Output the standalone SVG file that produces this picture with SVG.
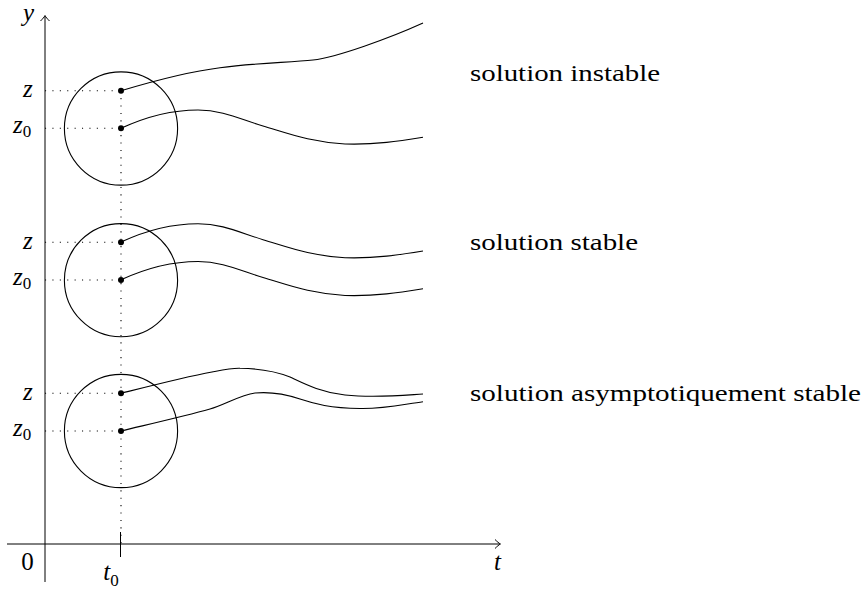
<svg xmlns="http://www.w3.org/2000/svg" width="867" height="590" viewBox="0 0 867 590" font-family="Liberation Serif, Times New Roman, serif">
<defs>
<style>
.ax{stroke:#000;stroke-width:1;fill:none}
.dot{stroke:#000;stroke-width:1.1;stroke-dasharray:1.1 6.3;fill:none}
.crc{stroke:#000;stroke-width:1.1;fill:none}
.cv{stroke:#000;stroke-width:1.1;fill:none}
.pt{fill:#000}
.lbl{font-size:24px}
.m{font-size:25px;font-style:italic}
.n{font-size:25px}
.sub{font-size:17px;font-style:normal}
</style>
<marker id="to" markerUnits="userSpaceOnUse" viewBox="-7 -6 9 12" markerWidth="9" markerHeight="12" refX="0" refY="0" orient="auto">
<path d="M-5,-4.5 C-3,-2.5 -1,-0.7 0.5,0 C-1,0.7 -3,2.5 -5,4.5" stroke="#000" stroke-width="1" fill="none"/>
</marker>
</defs>
<g id="axes">
<line class="ax" x1="7" y1="544" x2="500" y2="544" marker-end="url(#to)"/>
<line class="ax" x1="45" y1="582" x2="45" y2="16" marker-end="url(#to)"/>
<line class="ax" x1="120.5" y1="532" x2="120.5" y2="557"/>
<text class="m" x="28.5" y="21" text-anchor="middle">y</text>
<text class="m" x="497.5" y="570" text-anchor="middle">t</text>
<text class="n" x="27.5" y="570" text-anchor="middle">0</text>
<text class="m" x="111" y="580" text-anchor="middle">t<tspan class="sub" dy="6">0</tspan></text>
</g>
<g id="connectors">
<line class="dot" x1="121" y1="90.7" x2="121" y2="544"/>
<line class="dot" x1="45" y1="90.7" x2="121" y2="90.7"/>
<line class="dot" x1="45" y1="128.3" x2="121" y2="128.3"/>
<line class="dot" x1="45" y1="242.3" x2="121" y2="242.3"/>
<line class="dot" x1="45" y1="280" x2="121" y2="280"/>
<line class="dot" x1="45" y1="393.3" x2="121" y2="393.3"/>
<line class="dot" x1="45" y1="431" x2="121" y2="431"/>
</g>
<g id="instable">
<circle class="crc" cx="121" cy="128.5" r="56.6"/>
<path class="cv" d="M121,90.7 C150,82 185,72 220,67.7 C255,63 290,62.5 313,60 C336,57.5 390,38 423,23"/>
<path class="cv" d="M121,128.3 C140,119.5 168,110 198,110 C222,110 240,119 263,126 C290,134 310,142 345,144 C375,145 400,141 423,137.3"/>
<circle class="pt" cx="121" cy="90.7" r="3"/>
<circle class="pt" cx="121" cy="128.3" r="3"/>
<text class="m" x="23" y="97">z</text>
<text class="m" x="13" y="133">z<tspan class="sub" dy="4">0</tspan></text>
<text class="lbl" x="470" y="81" textLength="190" lengthAdjust="spacingAndGlyphs">solution instable</text>
</g>
<g id="stable">
<circle class="crc" cx="121" cy="280.2" r="56.6"/>
<path class="cv" transform="translate(0,113.7)" d="M121,128.3 C140,119.5 168,110 198,110 C222,110 240,119 263,126 C290,134 310,142 345,144 C375,145 400,141 423,137.3"/>
<path class="cv" transform="translate(0,151.5)" d="M121,128.3 C140,119.5 168,110 198,110 C222,110 240,119 263,126 C290,134 310,142 345,144 C375,145 400,141 423,137.3"/>
<circle class="pt" cx="121" cy="242.3" r="3"/>
<circle class="pt" cx="121" cy="280" r="3"/>
<text class="m" x="23" y="249">z</text>
<text class="m" x="13" y="285">z<tspan class="sub" dy="4">0</tspan></text>
<text class="lbl" x="470" y="250" textLength="168" lengthAdjust="spacingAndGlyphs">solution stable</text>
</g>
<g id="asymptotique">
<circle class="crc" cx="121" cy="431" r="56.6"/>
<path class="cv" d="M121,393.3 C150,386 185,377 212,372 C225,369.5 232,368 240,368.3 C260,368.5 275,371 290,377 C305,384 320,392 345,395 C375,398 400,395.5 423,394"/>
<path class="cv" d="M121,431 C150,424 185,416 210,409 C225,404.8 240,395 255,393 C270,391.5 285,394 300,399 C315,404 330,408 360,408.5 C385,409 405,404 423,401.7"/>
<circle class="pt" cx="121" cy="393.3" r="3"/>
<circle class="pt" cx="121" cy="431" r="3"/>
<text class="m" x="23" y="400">z</text>
<text class="m" x="13" y="436">z<tspan class="sub" dy="4">0</tspan></text>
<text class="lbl" x="470" y="400.5" textLength="391" lengthAdjust="spacingAndGlyphs">solution asymptotiquement stable</text>
</g>
</svg>
